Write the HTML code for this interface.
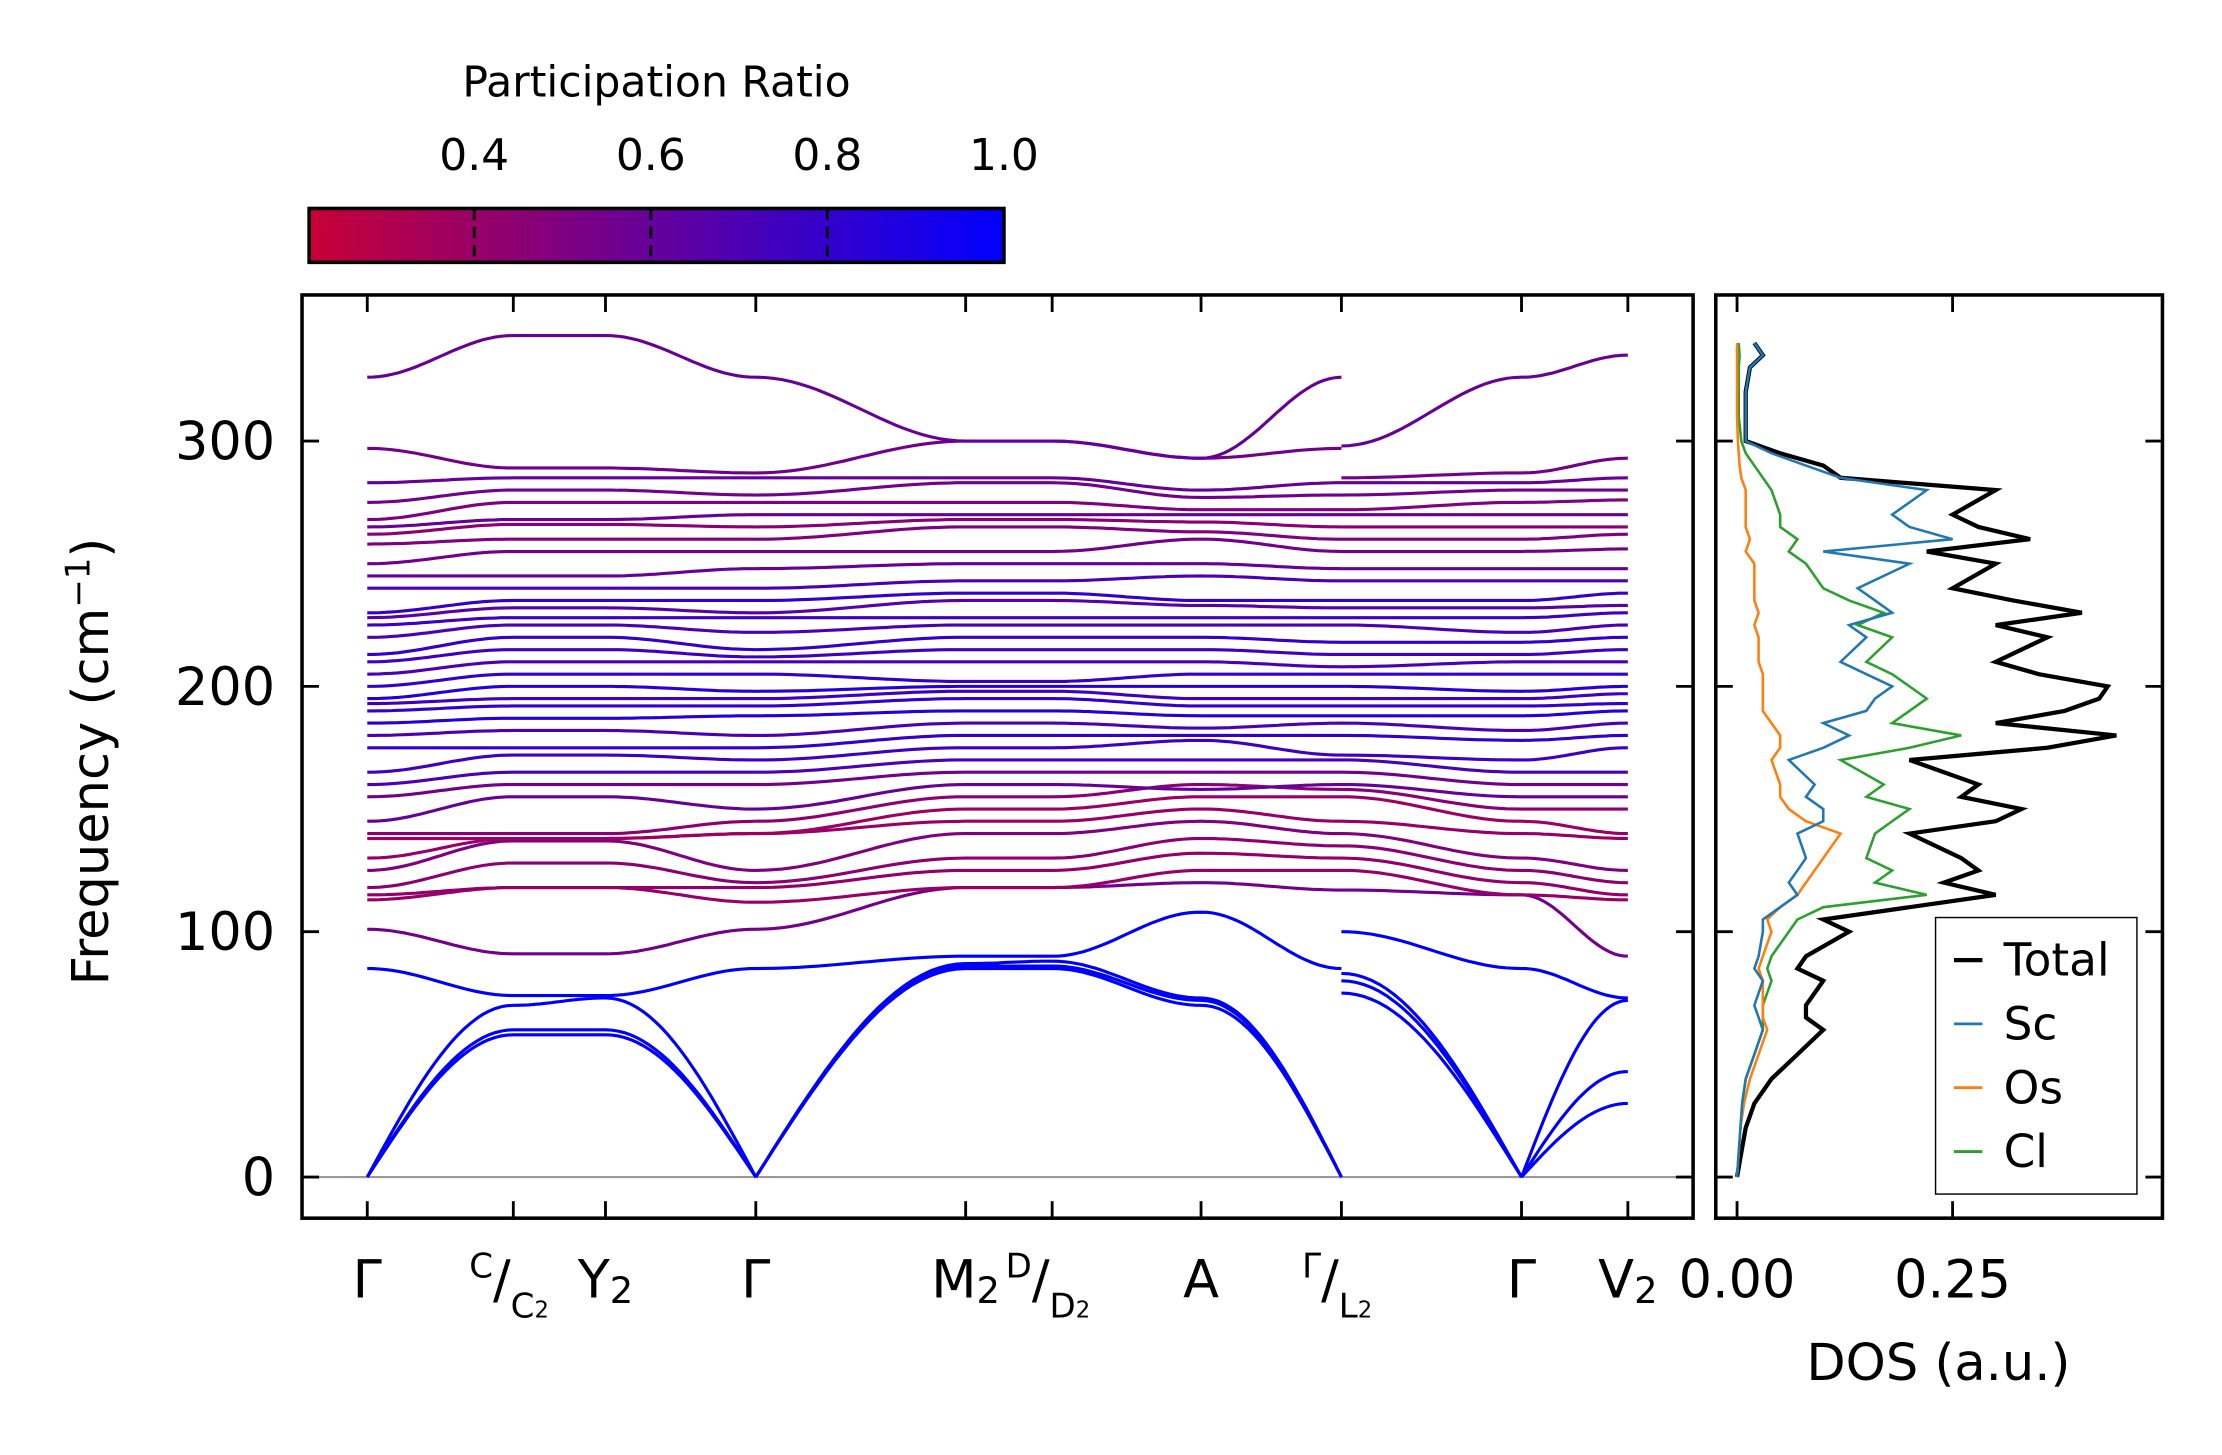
<!DOCTYPE html>
<html><head><meta charset="utf-8"><style>
html,body{margin:0;padding:0;background:#fff;}
svg{display:block;font-family:"DejaVu Sans","Liberation Sans",sans-serif;}
</style></head><body>
<svg id="chart" width="2222" height="1455" viewBox="0 0 1567 1026" preserveAspectRatio="none" xmlns="http://www.w3.org/2000/svg">
<defs>
<linearGradient id="cbg" x1="0" x2="1" y1="0" y2="0">
<stop offset="0" stop-color="rgb(200,0,55)"/><stop offset="1" stop-color="rgb(0,0,255)"/>
</linearGradient>
<clipPath id="mainclip"><rect x="213" y="208" width="981" height="651"/></clipPath>
<clipPath id="dosclip"><rect x="1210" y="208" width="315" height="651"/></clipPath>
</defs>
<g>
<text x="463" y="68" font-size="30" text-anchor="middle">Participation Ratio</text>
<rect x="218" y="147" width="490" height="38" fill="url(#cbg)" stroke="#000" stroke-width="2.5"/>
<g id="cbticks"></g>
</g>
<g>
<line x1="213" y1="830" x2="1194" y2="830" stroke="#999" stroke-width="1.5"/>
<g id="bands" clip-path="url(#mainclip)"></g>
<rect x="213" y="208" width="981" height="651" fill="none" stroke="#000" stroke-width="2.5"/>
<g id="mainticks"></g>
<text transform="translate(76,537) rotate(-90)" font-size="36" text-anchor="middle">Frequency (cm<tspan dy="-13" font-size="24">−1</tspan><tspan dy="13">)</tspan></text>
</g>
<g>
<g id="dos" clip-path="url(#dosclip)"></g>
<rect x="1210" y="208" width="315" height="651" fill="none" stroke="#000" stroke-width="2.5"/>
<g id="dosticks"></g>
<text x="1367" y="973" font-size="36" text-anchor="middle">DOS (a.u.)</text>
<g>
<rect x="1365" y="647" width="142" height="195" fill="#fff" stroke="#000" stroke-width="1"/>
<g id="legend"></g>
</g>
</g>
</svg>
<script>
const kLabels = ["Γ","C/C2","Y2","Γ","M2","D/D2","A","Γ/L2","Γ","V2"];
const kTickPos = [259,362,427,533,681,742,847,946,1073,1148];
const yTicks = [0,100,200,300];
const cbTicks = [0.4,0.6,0.8,1.0];
const bandValues = [
[0,58,58,0,85,85,70,0,0,30],
[0,60,60,0,86,86,72,0,0,43],
[0,70,73,0,87,88,73,0,0,72],
[85,74,74,85,90,90,108,85,85,73],
[101,91,91,101,118,118,120,117,115,90],
[113,118,118,112,118,118,125,125,115,113],
[115,118,118,118,125,125,132,130,120,115],
[118,128,128,120,130,130,138,135,125,120],
[125,137,137,125,140,140,145,140,130,125],
[130,138,138,140,145,145,150,145,140,138],
[138,138,138,140,150,150,155,155,145,140],
[140,140,140,145,155,155,160,158,150,150],
[145,155,155,150,160,160,158,160,155,155],
[155,160,160,160,165,165,165,165,160,160],
[160,165,165,165,170,170,170,170,165,165],
[165,172,172,170,175,175,178,172,170,175],
[175,175,175,175,180,180,180,180,178,180],
[180,182,182,180,185,185,183,185,182,185],
[185,187,187,188,190,190,188,188,188,190],
[190,192,192,192,195,195,192,192,192,193],
[193,195,195,195,198,198,195,195,195,197],
[195,200,200,198,200,200,200,200,198,200],
[200,205,205,205,202,202,205,205,205,205],
[205,210,210,210,210,210,210,208,210,210],
[210,215,215,212,215,215,215,213,213,215],
[213,220,220,215,220,220,220,218,218,220],
[220,225,225,222,225,225,225,225,222,225],
[225,228,228,228,228,228,228,228,228,230],
[228,232,232,230,235,235,233,232,232,233],
[230,235,235,235,238,238,235,235,235,238],
[240,240,240,240,243,243,245,243,243,243],
[245,245,245,248,250,250,250,248,248,248],
[250,255,255,255,255,255,260,255,255,256],
[258,260,260,260,265,265,263,260,260,262],
[262,266,266,265,268,268,267,265,265,265],
[265,268,268,270,270,270,270,270,270,270],
[268,275,275,275,275,275,272,272,275,276],
[275,280,280,278,283,283,277,278,280,280],
[283,285,285,285,285,285,280,283,283,285],
[297,289,289,287,300,300,293,297,287,293],
[326,343,343,326,300,300,293,326,326,335]
];
const bandL2 = [75,80,83,100,117,125,130,135,140,145,155,158,160,165,170,172,180,185,188,192,195,200,205,208,213,218,225,228,232,235,243,248,255,260,265,270,272,278,283,285,298];
const bandRatio = [1,1,1,1,0.55,0.4,0.42,0.45,0.5,0.4,0.38,0.45,0.6,0.55,0.7,0.75,0.8,0.7,0.85,0.8,0.75,0.85,0.8,0.7,0.75,0.8,0.7,0.75,0.65,0.8,0.7,0.6,0.55,0.5,0.45,0.6,0.5,0.55,0.6,0.55,0.6];
const dosFreq = [0,10,20,30,40,50,60,65,70,80,85,90,100,105,110,115,120,125,130,140,145,150,155,160,170,175,180,185,190,195,200,205,210,220,225,230,235,240,250,255,260,265,270,280,285,290,295,300,310,320,330,335,340];
const dosTotal = [0,0.005,0.01,0.02,0.04,0.07,0.1,0.08,0.08,0.1,0.07,0.08,0.13,0.1,0.2,0.3,0.24,0.28,0.26,0.2,0.3,0.33,0.26,0.28,0.2,0.36,0.44,0.3,0.38,0.42,0.43,0.35,0.3,0.36,0.3,0.4,0.32,0.25,0.3,0.22,0.34,0.28,0.25,0.3,0.12,0.1,0.05,0.01,0.01,0.01,0.015,0.03,0.02];
const dosSc = [0,0.002,0.004,0.006,0.01,0.02,0.03,0.025,0.02,0.03,0.02,0.025,0.03,0.03,0.05,0.07,0.06,0.07,0.08,0.07,0.1,0.1,0.08,0.09,0.06,0.1,0.13,0.1,0.15,0.16,0.18,0.15,0.12,0.15,0.13,0.18,0.16,0.14,0.2,0.1,0.25,0.2,0.18,0.22,0.12,0.08,0.04,0.01,0.01,0.01,0.015,0.03,0.02];
const dosOs = [0,0.002,0.004,0.008,0.015,0.025,0.035,0.03,0.03,0.03,0.025,0.03,0.04,0.035,0.05,0.07,0.08,0.09,0.1,0.12,0.08,0.06,0.05,0.05,0.04,0.05,0.05,0.04,0.03,0.03,0.03,0.03,0.025,0.025,0.02,0.025,0.02,0.02,0.02,0.01,0.015,0.01,0.01,0.01,0.005,0.003,0.002,0.001,0,0,0,0,0];
const dosCl = [0,0.002,0.004,0.006,0.01,0.02,0.03,0.03,0.03,0.04,0.035,0.04,0.06,0.07,0.1,0.22,0.16,0.18,0.15,0.16,0.18,0.2,0.15,0.17,0.12,0.2,0.26,0.18,0.2,0.22,0.2,0.18,0.15,0.18,0.14,0.17,0.13,0.1,0.08,0.06,0.07,0.05,0.05,0.04,0.03,0.02,0.01,0.005,0.002,0.002,0.002,0.003,0.002];

const NS="http://www.w3.org/2000/svg";
const fy = f => 830 - f*(519/300);
const dx = v => 1225 + v*608;
const cbx = r => 708 - (1-r)*(490/0.787);
function mk(tag, attrs, parent){const e=document.createElementNS(NS,tag);for(const k in attrs)e.setAttribute(k,attrs[k]);parent.appendChild(e);return e;}
function color(r){const t=Math.max(0,Math.min(1,(r-0.213)/0.787));return `rgb(${Math.round(200*(1-t))},0,${Math.round(55+200*t)})`;}

const cbg=document.getElementById('cbticks');
cbTicks.forEach(v=>{
  const x=cbx(v);
  if(v<1){
    const l=mk('line',{x1:x,x2:x,y1:147,y2:185,stroke:'#000','stroke-width':2,'stroke-dasharray':'8,5'},cbg);
    
    
  }
  const t=mk('text',{x:x,y:120,'font-size':31,'text-anchor':'middle'},cbg);
  
  
  t.textContent=v.toFixed(1);
});

const mt=document.getElementById('mainticks');
yTicks.forEach(v=>{
  const y=fy(v);
  mk('line',{x1:213,x2:225,y1:y,y2:y,stroke:'#000','stroke-width':2},mt);
  mk('line',{x1:1182,x2:1194,y1:y,y2:y,stroke:'#000','stroke-width':2},mt);
  const t=mk('text',{x:194,y:y+13,'font-size':37,'text-anchor':'end'},mt);
  
  
  t.textContent=v;
});
function addLabel(x,lbl){
  const t=mk('text',{x:x,y:915,'font-size':37,'text-anchor':'middle'},mt);
  
  
  if(lbl.includes('/')){
    const parts=lbl.split('/');
    const base=parts[1].slice(0,-1);
    t.innerHTML=`<tspan font-size="24" dy="-14">${parts[0]}</tspan><tspan dy="14">/</tspan><tspan font-size="24" dy="14">${base}<tspan font-size="16">2</tspan></tspan>`;
    t.setAttribute('x',x-3);
  } else if(/2$/.test(lbl)){
    t.innerHTML=`${lbl.slice(0,-1)}<tspan font-size="26" dy="4">2</tspan>`;
  } else t.textContent=lbl;
}
kTickPos.forEach((x,i)=>{
  mk('line',{x1:x,x2:x,y1:859,y2:847,stroke:'#000','stroke-width':2},mt);
  mk('line',{x1:x,x2:x,y1:208,y2:220,stroke:'#000','stroke-width':2},mt);
  addLabel(x,kLabels[i]);
});

const bg=document.getElementById('bands');
bandValues.forEach((vals0,bi)=>{
  const vals=vals0.slice(0,8).concat([bandL2[bi]],vals0.slice(8));
  const xs=kTickPos.slice(0,8).concat([kTickPos[7]],kTickPos.slice(8));
  let d='';
  for(let s=0;s<vals.length-1;s++){
    const a=vals[s],b=vals[s+1],x0=xs[s],x1=xs[s+1];
    if(x0===x1) continue;
    const N=24;
    for(let j=0;j<=N;j++){
      const t=j/N;let v;
      if(a===0&&b>0) v=b*Math.sin(Math.PI/2*t);
      else if(b===0&&a>0) v=a*Math.sin(Math.PI/2*(1-t));
      else v=a+(b-a)*(1-Math.cos(Math.PI*t))/2;
      const x=x0+(x1-x0)*t;
      d+=(j===0?'M':'L')+x.toFixed(1)+','+fy(v).toFixed(1);
    }
  }
  const p=mk('path',{d:d,fill:'none',stroke:color(bandRatio[bi]),'stroke-width':2.2},bg);
  
  
});

const dg=document.getElementById('dos');
const series=[["dos-total",dosTotal,"#000",3],["dos-cl",dosCl,"#2ca02c",1.8],["dos-os",dosOs,"#ff7f0e",1.8],["dos-sc",dosSc,"#1f77b4",1.8]];
series.forEach(([name,vals,col,w])=>{
  const d=vals.map((v,i)=>(i?'L':'M')+dx(v).toFixed(1)+','+fy(dosFreq[i]).toFixed(1)).join('');
  const p=mk('path',{d:d,fill:'none',stroke:col,'stroke-width':w},dg);
  
  
});
const dt=document.getElementById('dosticks');
yTicks.forEach(v=>{
  const y=fy(v);
  mk('line',{x1:1210,x2:1222,y1:y,y2:y,stroke:'#000','stroke-width':2},dt);
  mk('line',{x1:1513,x2:1525,y1:y,y2:y,stroke:'#000','stroke-width':2},dt);
});
[0,0.25].forEach(v=>{
  const x=dx(v);
  mk('line',{x1:x,x2:x,y1:859,y2:847,stroke:'#000','stroke-width':2},dt);
  mk('line',{x1:x,x2:x,y1:208,y2:220,stroke:'#000','stroke-width':2},dt);
  const t=mk('text',{x:x,y:915,'font-size':37,'text-anchor':'middle'},dt);
  
  
  t.textContent=v.toFixed(2);
});
const lg=document.getElementById('legend');
[["Total","#000",3],["Sc","#1f77b4",2],["Os","#ff7f0e",2],["Cl","#2ca02c",2]].forEach(([n,c,w],i)=>{
  const y=677+i*45;
  mk('line',{x1:1378,x2:1398,y1:y,y2:y,stroke:c,'stroke-width':w},lg);
  const t=mk('text',{x:1413,y:y+11,'font-size':32},lg);
  
  
  t.textContent=n;
});
</script>
</body></html>
